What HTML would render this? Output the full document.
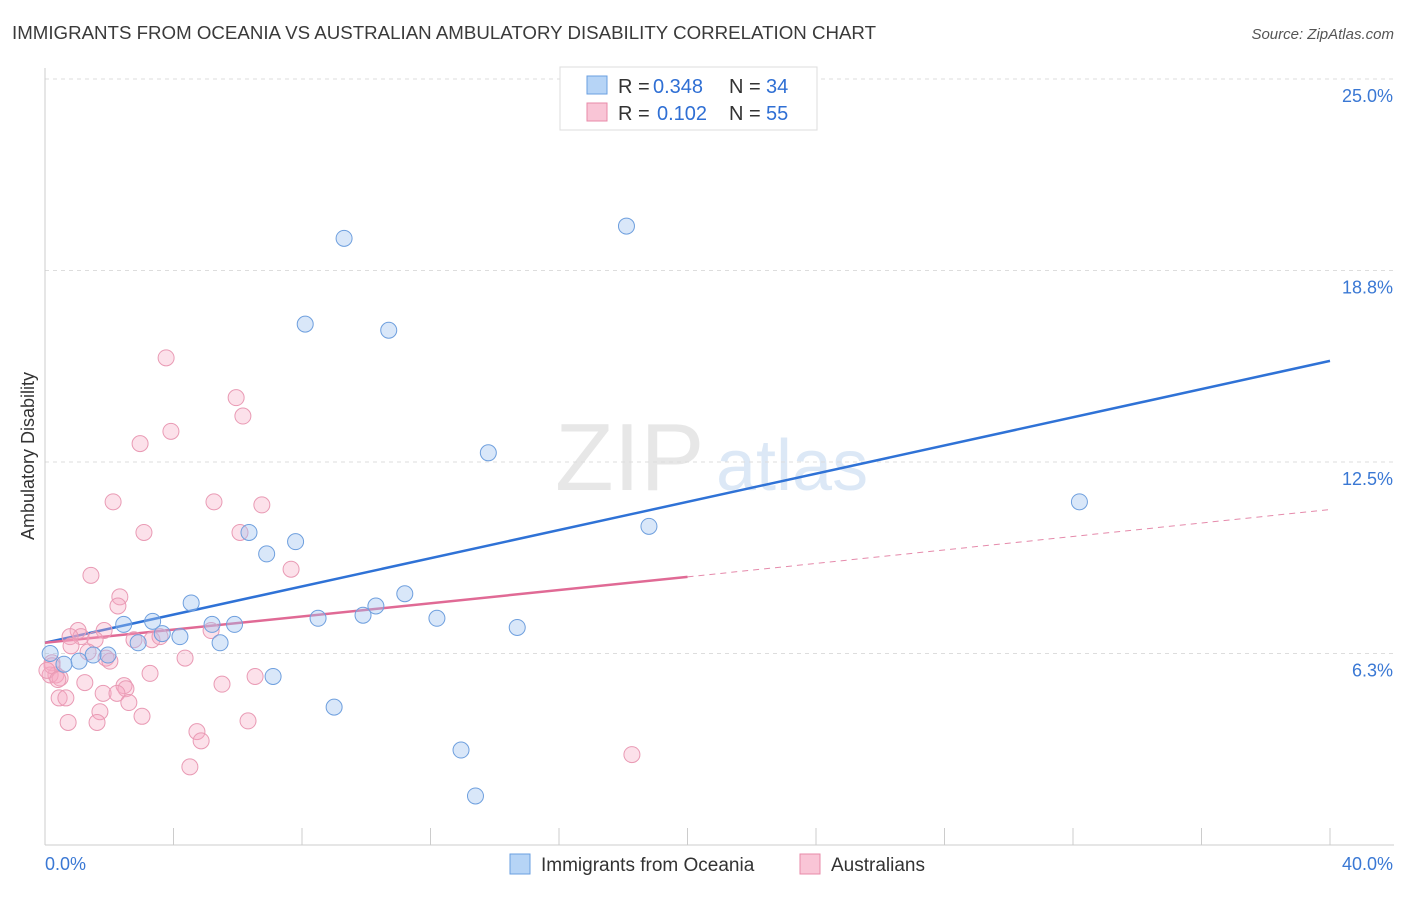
<!DOCTYPE html>
<html><head><meta charset="utf-8"><style>
body{margin:0;background:#fff;font-family:"Liberation Sans",sans-serif;}
svg text{font-family:"Liberation Sans",sans-serif;}
</style></head><body>
<svg id="chart" width="1406" height="892" xmlns="http://www.w3.org/2000/svg">
<text x="12" y="39" font-size="18" fill="#3a3a3a" textLength="864" lengthAdjust="spacingAndGlyphs">IMMIGRANTS FROM OCEANIA VS AUSTRALIAN AMBULATORY DISABILITY CORRELATION CHART</text>
<text x="1394" y="39" font-size="15" fill="#555" text-anchor="end" font-style="italic">Source: ZipAtlas.com</text>
<g opacity="0.35">
<text x="555" y="490" font-size="96" fill="#bbb" font-family="Liberation Serif,serif">ZIP</text>
<text x="716" y="490" font-size="72" fill="#9ec0e8">atlas</text>
</g>
<g id="grid"></g>
<g id="axes"></g>
<g id="lines"></g>
<g id="points"></g>
<g>
<rect x="560" y="67" width="257" height="63" fill="#fff" stroke="#ddd"/>
<rect x="587" y="76" width="20" height="18" fill="#b6d4f6" stroke="#6a9fe0"/>
<text x="618" y="93" font-size="20" fill="#333">R =</text>
<text x="653" y="93" font-size="20" fill="#2f6fd4">0.348</text>
<text x="729" y="93" font-size="20" fill="#333">N =</text>
<text x="766" y="93" font-size="20" fill="#2f6fd4">34</text>
<rect x="587" y="103" width="20" height="18" fill="#f9c5d6" stroke="#e88aa8"/>
<text x="618" y="120" font-size="20" fill="#333">R =</text>
<text x="657" y="120" font-size="20" fill="#2f6fd4">0.102</text>
<text x="729" y="120" font-size="20" fill="#333">N =</text>
<text x="766" y="120" font-size="20" fill="#2f6fd4">55</text>
</g>
<g>
<rect x="510" y="854" width="20" height="20" fill="#b6d4f6" stroke="#6a9fe0"/>
<text x="541" y="871" font-size="19" fill="#333">Immigrants from Oceania</text>
<rect x="800" y="854" width="20" height="20" fill="#f9c5d6" stroke="#e88aa8"/>
<text x="831" y="871" font-size="19" fill="#333">Australians</text>
</g>
<text transform="translate(34,456) rotate(-90)" font-size="18" fill="#333" text-anchor="middle">Ambulatory Disability</text>
</svg>
<script>
const xTicks=[0,40];
const yTicks=[6.25,12.5,18.75,25];
const yTickLabels=["6.3%","12.5%","18.8%","25.0%"];
const blueX=[9.31,18.1,8.1,10.7,13.8,32.2,18.8,6.35,6.9,7.8,11.2,10.3,4.55,8.5,9.9,12.2,14.7,2.45,3.35,5.2,5.9,3.65,4.2,2.9,5.45,1.5,1.96,1.06,0.59,7.1,9.0,12.95,13.4,0.16];
const blueY=[19.8,20.2,17.0,16.8,12.8,11.2,10.4,10.2,9.5,9.9,8.2,7.8,7.9,7.4,7.5,7.4,7.1,7.2,7.3,7.2,7.2,6.9,6.8,6.6,6.6,6.2,6.2,6.0,5.9,5.5,4.5,3.1,1.6,6.25];
const pinkX=[3.77,5.95,6.16,2.96,3.92,2.12,5.26,6.75,3.08,6.07,1.43,7.66,2.33,2.27,1.03,1.84,1.12,0.78,1.56,3.33,3.58,5.17,2.77,0.81,1.34,1.9,4.36,2.02,0.22,3.27,0.34,0.16,0.47,1.24,2.46,6.54,5.51,0.44,0.65,2.52,1.81,2.24,2.61,1.71,3.02,0.72,1.62,6.32,4.73,4.86,4.51,18.27,0.22,0.06,0.4];
const pinkY=[15.9,14.6,14.0,13.1,13.5,11.2,11.2,11.1,10.2,10.2,8.8,9.0,8.1,7.8,7.0,7.0,6.8,6.8,6.7,6.7,6.8,7.0,6.7,6.5,6.3,6.1,6.1,6.0,5.95,5.6,5.55,5.55,5.45,5.3,5.2,5.5,5.25,4.8,4.8,5.1,4.95,4.95,4.65,4.35,4.2,4.0,4.0,4.05,3.7,3.4,2.55,2.95,5.85,5.7,5.4];
const blueTrend=[[0,6.6],[40,15.8]];
const pinkSolid=[[0,6.6],[20,8.75]];
const pinkDash=[[20,8.75],[40,10.95]];
const NS="http://www.w3.org/2000/svg";
const X=v=>45+v/40*1285, Y=v=>845-v/25*766;
function mk(tag,attrs,parent){const e=document.createElementNS(NS,tag);for(const k in attrs)e.setAttribute(k,attrs[k]);parent.appendChild(e);return e;}
const grid=document.getElementById('grid'),axes=document.getElementById('axes');
yTicks.forEach((t,i)=>{
 const l=mk('line',{x1:45,x2:1394,y1:Y(t),y2:Y(t),stroke:'#ddd','stroke-dasharray':'4,4'},grid);
 
 
 const tx=mk('text',{x:1393,y:Y(t)+23,'font-size':18,fill:'#3a78d4','text-anchor':'end'},axes);
 tx.textContent=yTickLabels[i];
 
 
});
mk('line',{x1:45,x2:45,y1:68,y2:845,stroke:'#ccc'},axes);
mk('line',{x1:45,x2:1394,y1:845,y2:845,stroke:'#ccc'},axes);
for(let i=0;i<=10;i++){const l=mk('line',{x1:X(i*4),x2:X(i*4),y1:828,y2:845,stroke:'#ccc'},axes);
 
 }
const x0=mk('text',{x:45,y:870,'font-size':18,fill:'#3a78d4'},axes);x0.textContent=xTicks[0].toFixed(1)+'%';


const x1=mk('text',{x:1393,y:870,'font-size':18,fill:'#3a78d4','text-anchor':'end'},axes);x1.textContent=xTicks[1].toFixed(1)+'%';


const pts=document.getElementById('points'),lines=document.getElementById('lines');
pinkX.forEach((v,i)=>{const c=mk('circle',{cx:X(v),cy:Y(pinkY[i]),r:8,fill:'rgba(246,170,195,0.35)',stroke:'#e99ab4','stroke-width':1},pts);
 
 });
blueX.forEach((v,i)=>{const c=mk('circle',{cx:X(v),cy:Y(blueY[i]),r:8,fill:'rgba(160,196,240,0.4)',stroke:'#6e9fde','stroke-width':1},pts);
 
 });
function ln(p,attrs,name){const l=mk('line',Object.assign({x1:X(p[0][0]),y1:Y(p[0][1]),x2:X(p[1][0]),y2:Y(p[1][1])},attrs),lines);
 
 }
ln(blueTrend,{stroke:'#2f72d6','stroke-width':2.5},'oceania-trend-line');
ln(pinkSolid,{stroke:'#e06a95','stroke-width':2.5},'australians-trend-line');
ln(pinkDash,{stroke:'#e58aab','stroke-width':1,'stroke-dasharray':'6,5'},'australians-trend-extension');
</script>
</body></html>
